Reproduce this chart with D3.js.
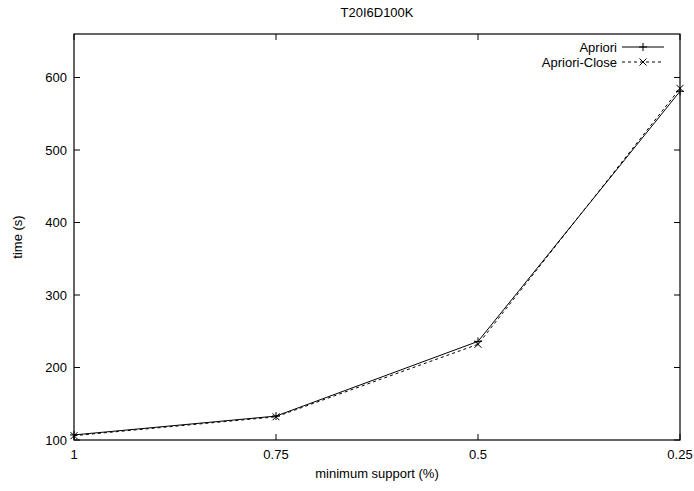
<!DOCTYPE html>
<html>
<head>
<meta charset="utf-8">
<script src="https://cdn.jsdelivr.net/npm/d3@7"></script>
<style>
  body { margin: 0; background: #fff; }
  text { font-family: 'Liberation Sans Narrow', 'Liberation Sans', sans-serif; font-size: 13px; fill: #000; }
</style>
</head>
<body>
<div id="chart"></div>
<script>
const supports = ['1', '0.75', '0.5', '0.25'];
const aprioriTimes = [107, 133, 236, 581];
const closeTimes = [106, 132, 232, 585];
const yTicks = [100, 200, 300, 400, 500, 600];
const seriesNames = ['Apriori', 'Apriori-Close'];

const width = 694;
const height = 491;
const margin = { top: 34, right: 14, bottom: 51, left: 74 };
const w = width - margin.left - margin.right;
const h = height - margin.top - margin.bottom;

const svg = d3.select('#chart').append('svg')
  .attr('width', width)
  .attr('height', height);

const x = d3.scalePoint().domain(supports).range([0, w]);
const y = d3.scaleLinear().domain([100, 660]).range([h, 0]);

const g = svg.append('g')
  .attr('transform', `translate(${margin.left},${margin.top})`);

// frame
g.append('rect')
  .attr('width', w)
  .attr('height', h)
  .attr('fill', 'none')
  .attr('stroke', '#000')
  .attr('stroke-width', 1.2);

// ticks (inward, mirrored)
const tk = 6;
g.selectAll('.ytick').data(yTicks).enter().append('path')
  .attr('d', (d) => `M0,${y(d)}h${tk}M${w},${y(d)}h${-tk}`)
  .attr('stroke', '#000');
g.selectAll('.xtick').data(supports).enter().append('path')
  .attr('d', (d) => `M${x(d)},${h}v${-tk}M${x(d)},0v${tk}`)
  .attr('stroke', '#000');

g.selectAll('.ylab').data(yTicks).enter().append('text')
  .attr('x', -7)
  .attr('y', (d) => y(d))
  .attr('dy', '0.35em')
  .attr('text-anchor', 'end')
  .text((d) => d);
g.selectAll('.xlab').data(supports).enter().append('text')
  .attr('x', (d) => x(d))
  .attr('y', h + 19)
  .attr('text-anchor', 'middle')
  .text((d) => d);

// titles
svg.append('text')
  .attr('x', margin.left + w / 2)
  .attr('y', 17)
  .attr('text-anchor', 'middle')
  .text('T20I6D100K');
svg.append('text')
  .attr('x', margin.left + w / 2)
  .attr('y', 478)
  .attr('text-anchor', 'middle')
  .text('minimum support (%)');
svg.append('text')
  .attr('transform', `translate(22,${margin.top + h / 2}) rotate(-90)`)
  .attr('text-anchor', 'middle')
  .text('time (s)');

const line = d3.line()
  .x((d, i) => x(supports[i]))
  .y((d) => y(d));

const plus = (px, py) => `M${px - 4},${py}h8M${px},${py - 4}v8`;
const cross = (px, py) => `M${px - 3.5},${py - 3.5}l7,7M${px - 3.5},${py + 3.5}l7,-7`;

// Apriori
g.append('path')
  .attr('d', line(aprioriTimes))
  .attr('fill', 'none')
  .attr('stroke', '#000')
  .attr('stroke-width', 1);
g.selectAll('.pa').data(aprioriTimes).enter().append('path')
  .attr('d', (d, i) => plus(x(supports[i]), y(d)))
  .attr('stroke', '#000');

// Apriori-Close
g.append('path')
  .attr('d', line(closeTimes))
  .attr('fill', 'none')
  .attr('stroke', '#000')
  .attr('stroke-width', 1)
  .attr('stroke-dasharray', '3,3');
g.selectAll('.pc').data(closeTimes).enter().append('path')
  .attr('d', (d, i) => cross(x(supports[i]), y(d)))
  .attr('stroke', '#000');

// legend
const legend = svg.append('g');
seriesNames.forEach((name, i) => {
  const ly = 47 + i * 15;
  legend.append('text')
    .attr('x', 617)
    .attr('y', ly)
    .attr('dy', '0.35em')
    .attr('text-anchor', 'end')
    .text(name);
  legend.append('line')
    .attr('x1', 622).attr('x2', 664)
    .attr('y1', ly).attr('y2', ly)
    .attr('stroke', '#000')
    .attr('stroke-dasharray', i === 0 ? null : '3,3');
  legend.append('path')
    .attr('d', i === 0 ? plus(643, ly) : cross(643, ly))
    .attr('stroke', '#000');
});
</script>
</body>
</html>
